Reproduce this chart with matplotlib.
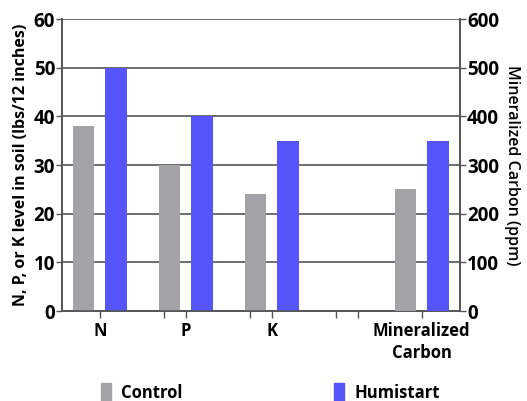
import matplotlib
matplotlib.use("Agg")
import matplotlib.pyplot as plt
from matplotlib.patches import Patch

plt.rcParams['font.family'] = ['Open Sans', 'DejaVu Sans']

categories = ["N", "P", "K", "Mineralized\nCarbon"]
control_npk = [38, 30, 24]
humistart_npk = [50, 40, 35]
control_carbon = [250]
humistart_carbon = [350]
left_ticks = [0, 10, 20, 30, 40, 50, 60]
right_ticks = [0, 100, 200, 300, 400, 500, 600]

gray = "#a3a3a7"
blue = "#5555fb"
axis_col = "#555555"

pos_npk = [0, 1, 2]
pos_carbon = [3.744]
w = 0.25
off = 0.19

fig = plt.figure(figsize=(5.27, 4.01), dpi=100)
ax = fig.add_axes([0.1176, 0.2244, 0.7554, 0.7282])
ax2 = ax.twinx()

ax.bar([p - off for p in pos_npk], control_npk, width=w, color=gray, zorder=3)
ax.bar([p + off for p in pos_npk], humistart_npk, width=w, color=blue, zorder=3)
ax2.bar([p - off for p in pos_carbon], control_carbon, width=w, color=gray, zorder=3)
ax2.bar([p + off for p in pos_carbon], humistart_carbon, width=w, color=blue, zorder=3)

ax.set_xlim(-0.44, 4.19)
ax.set_ylim(0, 60)
ax2.set_ylim(0, 600)
ax.set_yticks(left_ticks)
ax2.set_yticks(right_ticks)
ax.yaxis.grid(True, color=axis_col, lw=1.2, zorder=0)
ax.set_axisbelow(True)

ax.set_xticks(pos_npk + pos_carbon)
ax.set_xticklabels(categories, fontsize=12, fontweight='bold', linespacing=1.3)
ax.set_xticks([0.744, 1.744, 2.744, 3.0], minor=True)
ax.tick_params(axis='x', which='both', length=5, color=axis_col, width=1, pad=3)
ax.tick_params(axis='y', length=4, color=axis_col, width=1, pad=1, labelsize=13.5)
ax2.tick_params(axis='y', length=4, color=axis_col, width=1, pad=1, labelsize=13.5)
for lab in ax.get_yticklabels() + ax2.get_yticklabels():
    lab.set_fontweight('bold')

for a in (ax, ax2):
    a.spines['top'].set_visible(False)
    for s in ('left', 'right', 'bottom'):
        a.spines[s].set_color(axis_col)
        a.spines[s].set_linewidth(1.2)

ax.set_ylabel("N, P, or K level in soil (lbs/12 inches)", fontsize=11.5, fontweight='bold', labelpad=3)
ax2.set_ylabel("Mineralized Carbon (ppm)", fontsize=11.5, fontweight='semibold', rotation=270, labelpad=15)

handles = [Patch(color=gray, label="Control"), Patch(color=blue, label="Humistart")]
leg = fig.legend(handles=handles, loc='lower left', bbox_to_anchor=(0.163, -0.042), ncol=2,
                 frameon=False, handlelength=0.6, handleheight=1.5, handletextpad=0.6,
                 columnspacing=9.1, prop={'size': 12, 'weight': 'bold'})

fig.savefig("out.png", dpi=100)
